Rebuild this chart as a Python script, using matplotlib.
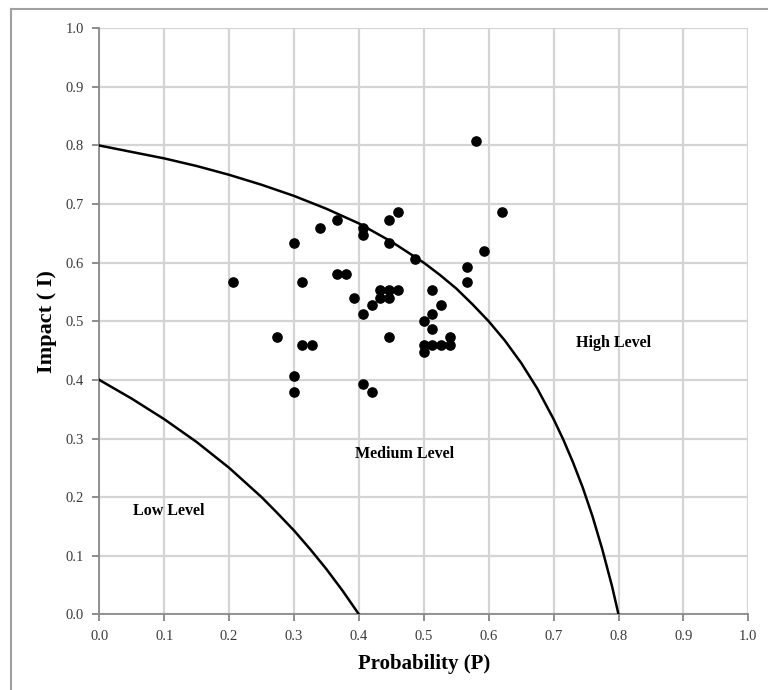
import matplotlib
matplotlib.use("Agg")
import matplotlib.pyplot as plt
from matplotlib.lines import Line2D

plt.rcParams['font.family'] = ['Liberation Serif', 'DejaVu Serif']

# risk data points
prob = [0.206, 0.274, 0.300, 0.300, 0.300, 0.313, 0.313, 0.327, 0.340, 0.367,
        0.367, 0.380, 0.393, 0.407, 0.407, 0.407, 0.407, 0.420, 0.420, 0.433,
        0.433, 0.447, 0.447, 0.447, 0.447, 0.447, 0.460, 0.460, 0.487, 0.500,
        0.500, 0.500, 0.513, 0.513, 0.513, 0.513, 0.527, 0.527, 0.540, 0.540,
        0.567, 0.567, 0.580, 0.593, 0.620]
impact = [0.567, 0.473, 0.633, 0.407, 0.380, 0.567, 0.460, 0.460, 0.660, 0.673,
          0.580, 0.580, 0.540, 0.660, 0.647, 0.513, 0.393, 0.527, 0.380, 0.553,
          0.540, 0.553, 0.540, 0.673, 0.633, 0.473, 0.687, 0.553, 0.607, 0.500,
          0.460, 0.447, 0.553, 0.513, 0.487, 0.460, 0.527, 0.460, 0.473, 0.460,
          0.593, 0.567, 0.807, 0.620, 0.687]

# boundary curves
high_p = [0.0, 0.05, 0.1, 0.15, 0.2, 0.25, 0.3, 0.35, 0.4, 0.45, 0.5, 0.525,
          0.55, 0.575, 0.6, 0.625, 0.65, 0.675, 0.7, 0.715, 0.73, 0.745, 0.76,
          0.775, 0.79, 0.8]
high_i = [0.8, 0.789, 0.778, 0.765, 0.75, 0.733, 0.714, 0.692, 0.667, 0.636,
          0.6, 0.579, 0.556, 0.529, 0.5, 0.467, 0.429, 0.385, 0.333, 0.298,
          0.259, 0.216, 0.167, 0.111, 0.048, 0.0]
low_p = [0.0, 0.05, 0.1, 0.15, 0.2, 0.25, 0.275, 0.3, 0.325, 0.35, 0.375, 0.4]
low_i = [0.4, 0.368, 0.333, 0.294, 0.25, 0.2, 0.172, 0.143, 0.111, 0.077,
         0.04, 0.0]

ticks = [0.0, 0.1, 0.2, 0.3, 0.4, 0.5, 0.6, 0.7, 0.8, 0.9, 1.0]

fig = plt.figure(figsize=(7.68, 6.9), dpi=100)
ax = fig.add_axes([99.3 / 768, 1 - 614.3 / 690, 649 / 768, 586 / 690])

ax.plot(high_p, high_i, color='black', lw=1.8, zorder=3)
ax.plot(low_p, low_i, color='black', lw=1.8, zorder=3)
ax.scatter(prob, impact, s=44, color='black', zorder=4)

ax.set_xlim(0, 1)
ax.set_ylim(0, 1)
ax.set_xticks(ticks)
ax.set_yticks(ticks)
ax.set_xticklabels(['%.1f' % t for t in ticks])
ax.set_yticklabels(['%.1f' % t for t in ticks])
ax.tick_params(labelsize=10.5, colors='#7a7a7a', labelcolor='#3a3a3a',
               length=5, width=1.2, pad=6)
ax.grid(True, color='#d4d4d4', lw=1.6, zorder=0)
ax.set_axisbelow(True)
for s in ['top', 'right']:
    ax.spines[s].set_visible(False)
for s in ['left', 'bottom']:
    ax.spines[s].set_color('#8a8a8a')
    ax.spines[s].set_linewidth(1.3)

ax.set_xlabel('Probability (P)', fontsize=15, fontweight='bold', labelpad=8)
ax.set_ylabel('Impact ( I)', fontsize=16, fontweight='bold', labelpad=6)

ax.text(0.107, 0.176, 'Low Level', fontsize=11.5, fontweight='bold',
        ha='center', va='center', zorder=5)
ax.text(0.471, 0.274, 'Medium Level', fontsize=11.5, fontweight='bold',
        ha='center', va='center', zorder=5)
ax.text(0.792, 0.463, 'High Level', fontsize=11.5, fontweight='bold',
        ha='center', va='center', zorder=5)

# chart area frame
fig.add_artist(Line2D([11 / 768, 11 / 768], [1 - 9 / 690, 0], color='#a0a0a0',
                      lw=1.5, transform=fig.transFigure))
fig.add_artist(Line2D([11 / 768, 1], [1 - 9 / 690, 1 - 9 / 690], color='#a0a0a0',
                      lw=1.5, transform=fig.transFigure))

fig.savefig('out.png', dpi=100)
